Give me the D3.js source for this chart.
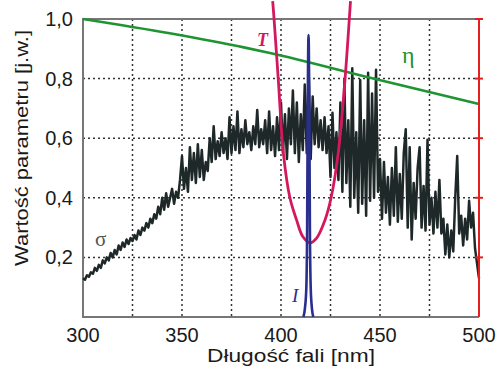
<!DOCTYPE html>
<html>
<head>
<meta charset="utf-8">
<script src="https://cdn.jsdelivr.net/npm/d3@7"></script>
<style>
  html, body { margin: 0; padding: 0; background: #fff; }
  svg { display: block; }
</style>
</head>
<body>
<div id="chart"></div>
<script>
// wavelength axis and value axis ticks
const xTicks = [300, 350, 400, 450, 500];
const xGrid = [325, 350, 375, 400, 425, 450, 475];
const yTicks = [0.2, 0.4, 0.6, 0.8, 1.0];
const yGrid = [0.2, 0.4, 0.6, 0.8];

// sigma: measured spectrum, one value per nm from 300 to 500
const sigmaStart = 300;
const sigmaValues = [
  0.13, 0.125, 0.14, 0.135, 0.15, 0.145, 0.165, 0.155, 0.175, 0.165,
  0.19, 0.18, 0.20, 0.19, 0.215, 0.20, 0.225, 0.21, 0.24, 0.225,
  0.25, 0.235, 0.26, 0.245, 0.265, 0.255, 0.275, 0.26, 0.29, 0.275,
  0.30, 0.29, 0.315, 0.30, 0.33, 0.315, 0.345, 0.33, 0.37, 0.345,
  0.40, 0.36, 0.415, 0.37, 0.40, 0.43, 0.38, 0.42, 0.40, 0.46,
  0.54, 0.43, 0.50, 0.42, 0.57, 0.46, 0.55, 0.45, 0.58, 0.47,
  0.56, 0.46, 0.52, 0.49, 0.60, 0.52, 0.64, 0.53, 0.59, 0.54,
  0.62, 0.55, 0.60, 0.53, 0.67, 0.55, 0.64, 0.56, 0.69, 0.55,
  0.63, 0.57, 0.66, 0.58, 0.62, 0.56, 0.64, 0.58, 0.695, 0.57,
  0.63, 0.58, 0.66, 0.55, 0.69, 0.56, 0.64, 0.54, 0.67, 0.56,
  0.72, 0.55, 0.68, 0.53, 0.70, 0.58, 0.76, 0.55, 0.72, 0.52,
  0.68, 0.56, 0.78, 0.55, 0.82, 0.53, 0.74, 0.58, 0.70, 0.57,
  0.66, 0.56, 0.67, 0.55, 0.64, 0.47, 0.685, 0.50, 0.62, 0.46,
  0.72, 0.42, 0.795, 0.45, 0.66, 0.37, 0.835, 0.40, 0.62, 0.35,
  0.795, 0.38, 0.66, 0.34, 0.82, 0.39, 0.75, 0.40, 0.83, 0.42,
  0.53, 0.33, 0.52, 0.35, 0.47, 0.31, 0.50, 0.34, 0.57, 0.32,
  0.48, 0.33, 0.55, 0.63, 0.30, 0.57, 0.26, 0.45, 0.33, 0.50,
  0.57, 0.30, 0.44, 0.29, 0.595, 0.31, 0.40, 0.28, 0.42, 0.30,
  0.46, 0.28, 0.33, 0.21, 0.31, 0.20, 0.29, 0.22, 0.40, 0.54,
  0.28, 0.34, 0.24, 0.33, 0.26, 0.39, 0.30, 0.35, 0.23, 0.18,
  0.13
];

// T: transmission band
const tLambda = [395.8, 396.5, 398.6, 401.2, 404.5, 407.9, 411.0, 414.6, 418.0, 422.2, 425.3, 428.9, 432.3, 434.5, 435.1];
const tValues = [1.06, 1.00, 0.80, 0.55, 0.40, 0.325, 0.27, 0.249, 0.265, 0.325, 0.40, 0.55, 0.795, 1.00, 1.06];

// I: source line
const iLambda = [411.3, 412.1, 412.8, 413.2, 413.5, 413.9, 414.3, 414.6, 415.0, 415.6, 416.3];
const iValues = [0.0, 0.03, 0.10, 0.30, 0.70, 0.946, 0.70, 0.30, 0.10, 0.03, 0.0];

// eta: efficiency
const etaLambda = [300, 343.8, 381.8, 394.4, 445, 500];
const etaValues = [1.0, 0.952, 0.904, 0.886, 0.803, 0.715];

const W = 504, H = 372;
const svg = d3.select("#chart").append("svg")
  .attr("width", W).attr("height", H)
  .style("font-family", "'Liberation Sans', Arial, sans-serif");

const x = d3.scaleLinear().domain([300, 500]).range([83, 479]);
const y = d3.scaleLinear().domain([0, 1]).range([317, 19]);

// dotted grid
svg.selectAll("line.vgrid").data(xGrid).enter().append("line")
  .attr("x1", d => x(d)).attr("x2", d => x(d))
  .attr("y1", y(1)).attr("y2", y(0))
  .attr("stroke", "#333").attr("stroke-width", 1.5)
  .attr("stroke-dasharray", "2,3");
svg.selectAll("line.hgrid").data(yGrid).enter().append("line")
  .attr("x1", x(300)).attr("x2", x(500))
  .attr("y1", d => y(d)).attr("y2", d => y(d))
  .attr("stroke", "#333").attr("stroke-width", 1.5)
  .attr("stroke-dasharray", "2,3");

// frame: grey left/top/bottom
svg.append("path")
  .attr("d", `M${x(500)},${y(1)} H${x(300)} V${y(0)} H${x(500)}`)
  .attr("fill", "none").attr("stroke", "#777").attr("stroke-width", 2);

// sigma curve
const sigmaData = sigmaValues.map((v, i) => [sigmaStart + i, v]);
const line = d3.line().x(d => x(d[0])).y(d => y(d[1]));
svg.append("path").datum(sigmaData)
  .attr("d", line)
  .attr("fill", "none").attr("stroke", "#1f2828")
  .attr("stroke-width", 2.5).attr("stroke-linejoin", "round");

// eta
svg.append("path").datum(etaLambda.map((l, i) => [l, etaValues[i]]))
  .attr("d", line.curve(d3.curveMonotoneX))
  .attr("fill", "none").attr("stroke", "#1e9433").attr("stroke-width", 2.6);

// T
svg.append("path").datum(tLambda.map((l, i) => [l, tValues[i]]))
  .attr("d", d3.line().x(d => x(d[0])).y(d => y(d[1])).curve(d3.curveCatmullRom))
  .attr("fill", "none").attr("stroke", "#d4185c").attr("stroke-width", 2.8);

// I
svg.append("path").datum(iLambda.map((l, i) => [l, iValues[i]]))
  .attr("d", d3.line().x(d => x(d[0])).y(d => y(d[1])).curve(d3.curveMonotoneX))
  .attr("fill", "none").attr("stroke", "#2a2f8e").attr("stroke-width", 2.6);

// right red axis
svg.append("line")
  .attr("x1", x(500)).attr("x2", x(500)).attr("y1", y(1)).attr("y2", y(0))
  .attr("stroke", "#e3201f").attr("stroke-width", 2);
svg.selectAll("line.rtick").data(yTicks).enter().append("line")
  .attr("x1", x(500) - 4).attr("x2", x(500) + 4)
  .attr("y1", d => y(d)).attr("y2", d => y(d))
  .attr("stroke", "#e3201f").attr("stroke-width", 2);

// tick labels
const fmt = d => d.toFixed(1).replace(".", ",");
svg.selectAll("text.ylab").data(yTicks).enter().append("text")
  .attr("x", 73).attr("y", d => y(d) + 7)
  .attr("text-anchor", "end").attr("font-size", 20).attr("fill", "#1a1a1a")
  .text(fmt);
svg.selectAll("text.xlab").data(xTicks).enter().append("text")
  .attr("x", d => x(d)).attr("y", 342)
  .attr("text-anchor", "middle").attr("font-size", 20).attr("fill", "#1a1a1a")
  .text(d => d);

// axis titles
svg.append("text")
  .attr("transform", "translate(28,148) rotate(-90)")
  .attr("text-anchor", "middle").attr("font-size", 19).attr("fill", "#1a1a1a")
  .attr("textLength", 236).attr("lengthAdjust", "spacingAndGlyphs")
  .text("Wartość parametru [j.w.]");
svg.append("text")
  .attr("x", 291).attr("y", 362)
  .attr("text-anchor", "middle").attr("font-size", 19).attr("fill", "#1a1a1a")
  .attr("textLength", 168).attr("lengthAdjust", "spacingAndGlyphs")
  .text("Długość fali [nm]");

// curve labels
const serif = "'Liberation Serif', 'DejaVu Serif', serif";
svg.append("text").attr("x", 95).attr("y", 246)
  .attr("font-family", serif).attr("font-size", 21).attr("fill", "#555")
  .text("σ");
svg.append("text").attr("x", 257).attr("y", 46)
  .attr("font-family", serif).attr("font-size", 18).attr("font-style", "italic")
  .attr("font-weight", "bold").attr("fill", "#d4185c").text("T");
svg.append("text").attr("x", 402).attr("y", 63)
  .attr("font-family", serif).attr("font-size", 24).attr("fill", "#1e9433")
  .text("η");
svg.append("text").attr("x", 292).attr("y", 302)
  .attr("font-family", serif).attr("font-size", 19).attr("font-style", "italic")
  .attr("fill", "#2a2f8e").text("I");
</script>
</body>
</html>
